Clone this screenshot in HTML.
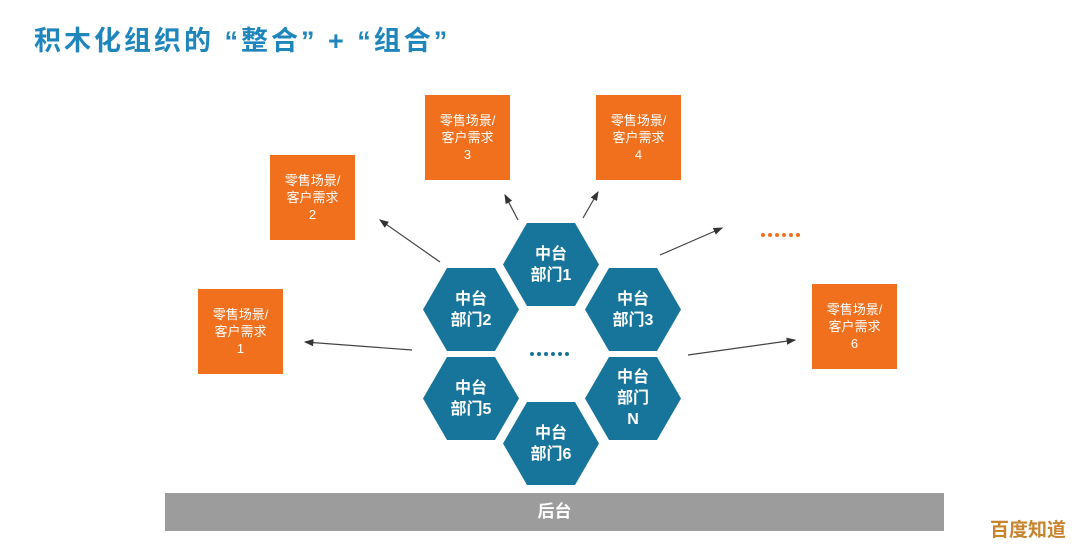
<!DOCTYPE html>
<html><head><meta charset="utf-8"><style>
body{margin:0;width:1080px;height:548px;background:#fff;position:relative;overflow:hidden;font-family:"Liberation Sans","Noto Sans CJK SC",sans-serif}
.t{position:absolute;left:34px;top:19px;font-size:27px;font-weight:bold;color:#1f86bd;white-space:pre;letter-spacing:3px}
.b{position:absolute;width:85px;height:85px;background:#f0701e;color:#fff;font-size:13px;line-height:17px;text-align:center;display:flex;align-items:center;justify-content:center}
.h{position:absolute;width:96px;height:83px;background:#17759c;clip-path:polygon(25% 0,75% 0,100% 50%,75% 100%,25% 100%,0 50%);color:#fff;font-weight:bold;font-size:16px;line-height:21px;text-align:center;display:flex;align-items:center;justify-content:center}
.d{position:absolute;display:flex;gap:3px}
.d i{display:block;width:4px;height:4px;border-radius:50%}
</style></head><body>
<div class="t">积木化组织的 “整合” + “组合”</div>
<div class="b" style="left:198px;top:289px">零售场景/<br>客户需求<br>1</div>
<div class="b" style="left:270px;top:155px">零售场景/<br>客户需求<br>2</div>
<div class="b" style="left:425px;top:95px">零售场景/<br>客户需求<br>3</div>
<div class="b" style="left:596px;top:95px">零售场景/<br>客户需求<br>4</div>
<div class="b" style="left:812px;top:284px">零售场景/<br>客户需求<br>6</div>
<div class="d" style="left:761px;top:233px"><i style="background:#f0701e"></i><i style="background:#f0701e"></i><i style="background:#f0701e"></i><i style="background:#f0701e"></i><i style="background:#f0701e"></i><i style="background:#f0701e"></i></div>
<svg style="position:absolute;left:0;top:0" width="1080" height="548">
<defs><marker id="a" markerWidth="8" markerHeight="8" refX="7" refY="4" orient="auto"><path d="M0,1 L8,4 L0,7Z" fill="#333"/></marker></defs>
<g stroke="#444" stroke-width="1.2" marker-end="url(#a)">
<line x1="412" y1="350" x2="305" y2="342"/>
<line x1="440" y1="262" x2="380" y2="220"/>
<line x1="518" y1="220" x2="505" y2="195"/>
<line x1="583" y1="218" x2="598" y2="192"/>
<line x1="660" y1="255" x2="722" y2="228"/>
<line x1="688" y1="355" x2="795" y2="340"/>
</g></svg>
<div class="h" style="left:503px;top:223px">中台<br>部门1</div>
<div class="h" style="left:423px;top:268px">中台<br>部门2</div>
<div class="h" style="left:585px;top:268px">中台<br>部门3</div>
<div class="h" style="left:423px;top:357px">中台<br>部门5</div>
<div class="h" style="left:585px;top:357px">中台<br>部门<br>N</div>
<div class="h" style="left:503px;top:402px">中台<br>部门6</div>
<div class="d" style="left:530px;top:352px"><i style="background:#17759c"></i><i style="background:#17759c"></i><i style="background:#17759c"></i><i style="background:#17759c"></i><i style="background:#17759c"></i><i style="background:#17759c"></i></div>
<div style="position:absolute;left:165px;top:493px;width:779px;height:38px;background:#9c9c9c;color:#fff;font-weight:bold;font-size:17px;line-height:38px;text-align:center">后台</div>
<div style="position:absolute;left:990px;top:515px;color:#c8832e;font-size:19px;font-weight:bold">百度知道</div>
</body></html>
